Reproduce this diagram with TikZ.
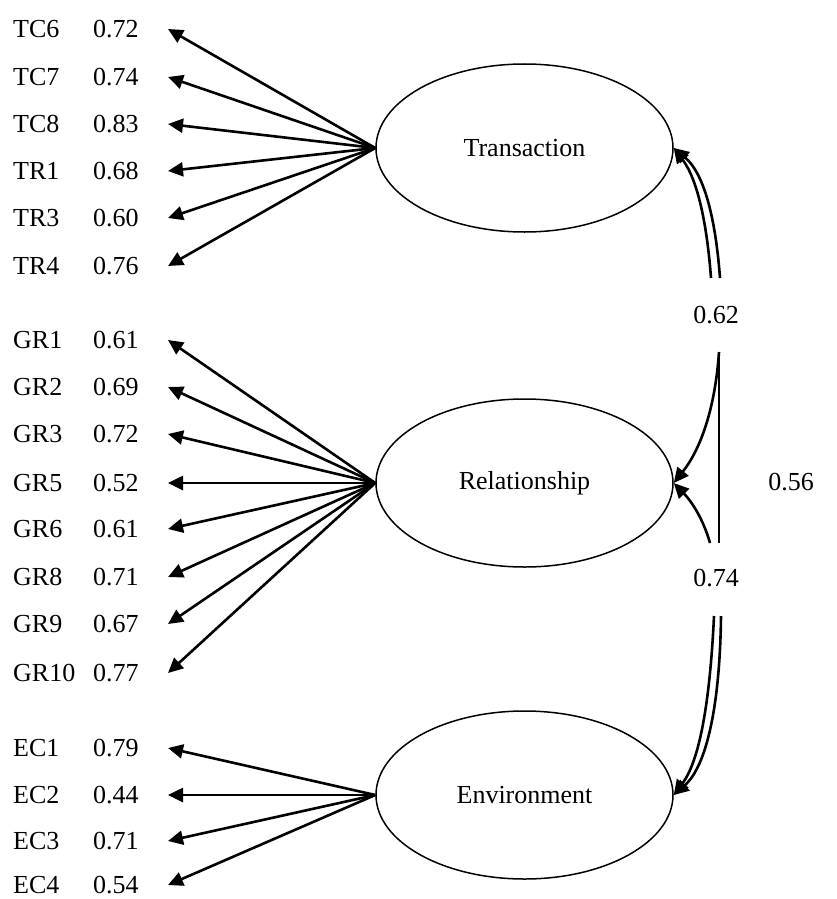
\documentclass[tikz,border=0pt]{standalone}
\usepackage{fontspec}
\setmainfont{Liberation Serif}
\usetikzlibrary{arrows.meta,shapes.geometric}
\begin{document}
\begin{tikzpicture}[x=1pt,y=-1pt,
  txt/.style={inner sep=0pt,font=\fontsize{26}{30}\selectfont},
  lbl/.style={txt,anchor=west},
  latent/.style={draw,ellipse,line width=1.5pt,minimum width=297pt,minimum height=168pt,inner sep=0pt,font=\fontsize{26}{30}\selectfont},
  load/.style={line width=2.6pt,-{Triangle[length=15pt,width=14pt]}},
  corr/.style={line width=2.6pt},
  corrarr/.style={line width=2.6pt,-{Triangle[length=15pt,width=14pt]}}]
\useasboundingbox (0,0) rectangle (837,899);

% latent factors
\node[latent] (T) at (524.5,148) {Transaction};
\node[latent] (R) at (524.5,483) {Relationship};
\node[latent] (E) at (524.5,795) {Environment};

% indicators with loadings
\foreach \n/\v/\y in {TC6/0.72/29,TC7/0.74/77,TC8/0.83/124,TR1/0.68/171,TR3/0.60/218,TR4/0.76/266,
  GR1/0.61/340,GR2/0.69/387,GR3/0.72/434,GR5/0.52/483,GR6/0.61/529,GR8/0.71/577,GR9/0.67/624,GR10/0.77/673,
  EC1/0.79/748,EC2/0.44/795,EC3/0.71/841,EC4/0.54/885}{
  \node[lbl] (n\n) at (13,\y) {\n};
  \node[lbl] (v\n) at (93,\y) {\v};
  \coordinate (a\n) at (168,\y);
}

% loading arrows
\foreach \n in {TC6,TC7,TC8,TR1,TR3,TR4}{\draw[load] (T.west) -- (a\n);}
\foreach \n in {GR1,GR2,GR3,GR5,GR6,GR8,GR9,GR10}{\draw[load] (R.west) -- (a\n);}
\foreach \n in {EC1,EC2,EC3,EC4}{\draw[load] (E.west) -- (a\n);}

% correlation labels
\node[txt] (c62) at (716,315) {0.62};
\node[txt] (c74) at (716,578) {0.74};
\node[txt] (c56) at (791,482) {0.56};

% free ends of the correlation curves
\coordinate (p1) at (711,278);
\coordinate (p2) at (720,278);
\coordinate (q1) at (719,352);
\coordinate (q2) at (719,543);
\coordinate (q3) at (710,543);
\coordinate (r1) at (714,616);
\coordinate (r2) at (721,616);

% correlation curves
\draw[corrarr] (p1) .. controls (707,225) and (698,180) .. (T.east);
\draw[corrarr] (p2) .. controls (716,225) and (706,175) .. (T.east);
\draw[corrarr] (q1) .. controls (715,410) and (700,450) .. (R.east);
\draw[corr] (q1) -- (q2);
\draw[corrarr] (q3) .. controls (705,525) and (695,505) .. (R.east);
\draw[corrarr] (r1) .. controls (710,700) and (700,760) .. (E.east);
\draw[corrarr] (r2) .. controls (720,700) and (708,765) .. (E.east);
\end{tikzpicture}
\end{document}
